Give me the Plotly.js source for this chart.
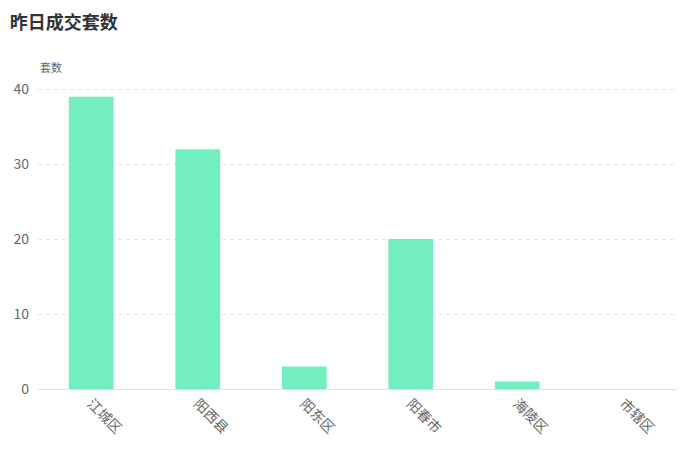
<!DOCTYPE html>
<html><head><meta charset="utf-8">
<script src="https://cdn.plot.ly/plotly-3.0.1.min.js"></script>
<style>html,body{margin:0;padding:0;background:#fff}#c{width:691px;height:464px}</style>
</head><body><div id="c"></div>
<script>
const categories = ["江城区","阳西县","阳东区","阳春市","海陵区","市辖区"];
const values = [39, 32, 3, 20, 1, 0];
const yTicks = [0, 10, 20, 30, 40];
const titleText = "昨日成交套数";
const yTitle = "套数";
const F = '"Noto Sans CJK SC", "Noto Sans", sans-serif';
Plotly.newPlot('c', [{
  type: 'bar', x: categories, y: values,
  marker: {color: '#73EEBF'}, hoverinfo: 'x+y'
}], {
  width: 691, height: 464,
  margin: {l: 38, r: 14, t: 87, b: 75},
  paper_bgcolor: '#fff', plot_bgcolor: '#fff',
  bargap: 0.58,
  font: {family: F, color: '#666'},
  title: {text: titleText, x: 0.014, xanchor: 'left', y: 0.952, yanchor: 'middle',
          font: {family: F, size: 18, color: '#333', weight: 'bold'}},
  xaxis: {type: 'category', tickangle: 45, showgrid: false, showline: true, linecolor: '#e0e0e0',
          linewidth: 1, ticks: '', tickfont: {size: 14, color: '#666'}, zeroline: false, fixedrange: true},
  yaxis: {range: [0, 40.3], tickvals: yTicks, showline: false, zeroline: false,
          gridcolor: '#e6e6e6', griddash: '4px,4px', ticks: '', ticklabelstandoff: 8,
          tickfont: {size: 14, color: '#666'}, fixedrange: true},
  annotations: [{text: yTitle, xref: 'paper', yref: 'paper', x: 0, y: 1, xanchor: 'left', yanchor: 'bottom',
                 yshift: 10, showarrow: false, font: {family: F, size: 11, color: '#666'}}],
  showlegend: false
}, {displayModeBar: false, staticPlot: true});
</script></body></html>
